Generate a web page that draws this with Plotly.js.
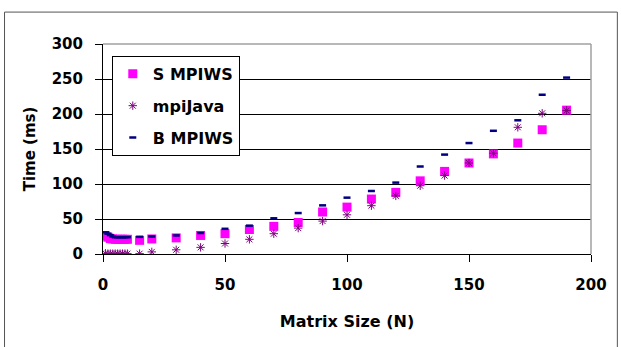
<!DOCTYPE html>
<html>
<head>
<meta charset="utf-8">
<script src="https://cdn.plot.ly/plotly-3.0.1.min.js"></script>
<style>html,body{margin:0;padding:0;background:#fff;}#chart{width:621px;height:347px;}</style>
</head>
<body>
<div id="chart"></div>
<script>
const matrixSize = [1,2,3,4,5,6,7,8,9,10,15,20,30,40,50,60,70,80,90,100,110,120,130,140,150,160,170,180,190];
const sMpiws = [26,24,22,21.5,21,21,21,21,21,21,19.5,21.5,23,26.5,29,35,39.5,45,60,67,78.5,88,104.5,118,130,143,158.5,177.5,205.5];
const mpiJava = [1,0.5,0.5,0.5,0.5,0.5,0.5,0.5,0.5,0.5,0.5,3,6,9.5,15,21,29,37,47,56,69,83,97.5,112,130,144,181,201,205];
const bMpiws = [31,29,27,25,24,24,24,24,24,24,24.5,25,26.5,30,36,40.5,51,58.5,69.5,80.5,90,102,125,142,158.5,176,191,227.5,252];
const seriesNames = ['S MPIWS','mpiJava','B MPIWS'];
const xTicks = [0,50,100,150,200];
const yTicks = [0,50,100,150,200,250,300];

const fam = 'DejaVu Sans, Arial, sans-serif';
function f(size) { return {family: fam, size: size, weight: 'bold', color: '#000'}; }

const traces = [
  {x: matrixSize, y: sMpiws, name: seriesNames[0], type: 'scatter', mode: 'markers', legendgroup: 'a',
   marker: {symbol: 'square', size: 9, color: '#FF00FF'}},
  {x: matrixSize, y: mpiJava, name: seriesNames[1], type: 'scatter', mode: 'markers', legendgroup: 'b',
   marker: {symbol: 'asterisk-open', size: 7, color: '#800080', line: {color: '#800080', width: 1}}},
  {x: matrixSize, y: bMpiws, name: seriesNames[2], type: 'scatter', mode: 'markers', legendgroup: 'c',
   marker: {symbol: 'line-ew-open', size: 5, color: '#000080', line: {color: '#000080', width: 2.5}}}
];

const layout = {
  width: 621, height: 347,
  margin: {l: 103, r: 30, t: 44, b: 93},
  paper_bgcolor: '#fff', plot_bgcolor: '#fff',
  showlegend: true,
  font: f(15),
  xaxis: {
    range: [0, 200], tickvals: xTicks, ticktext: xTicks.map(String),
    showgrid: false, zeroline: false,
    showline: true, linecolor: '#000', linewidth: 1,
    ticks: 'outside', ticklen: 7, tickcolor: '#000', tickwidth: 1,
    ticklabelstandoff: 10,
    tickfont: f(15),
    title: {text: 'Matrix Size (N)', font: f(16), standoff: 22}
  },
  yaxis: {
    range: [0, 300], tickvals: yTicks, ticktext: yTicks.map(String),
    showgrid: true, gridcolor: '#000', gridwidth: 1, zeroline: false,
    showline: true, linecolor: '#000', linewidth: 1,
    ticks: 'outside', ticklen: 7, tickcolor: '#000', tickwidth: 1,
    ticklabelstandoff: 9,
    tickfont: f(15),
    title: {text: 'Time (ms)', font: f(15), standoff: 12}
  },
  legend: {
    x: 0.018, y: 0.943, xanchor: 'left', yanchor: 'top',
    bgcolor: '#fff', bordercolor: '#000', borderwidth: 1,
    font: f(16),
    tracegroupgap: 8, itemwidth: 30
  },
  shapes: [
    {type: 'line', xref: 'paper', yref: 'paper', x0: 0, x1: 1, y0: 1, y1: 1, line: {color: '#a0a0a0', width: 1.5}, layer: 'above'},
    {type: 'line', xref: 'paper', yref: 'paper', x0: 1, x1: 1, y0: 0, y1: 1, line: {color: '#a0a0a0', width: 1.5}, layer: 'above'},
    {type: 'rect', xref: 'paper', yref: 'paper', x0: -0.2018, x1: 1.054, y0: -0.7, y1: 1.152, line: {color: '#555', width: 1}, fillcolor: 'rgba(0,0,0,0)', layer: 'below'}
  ]
};

Plotly.newPlot('chart', traces, layout, {displayModeBar: false, staticPlot: true});
</script>
</body>
</html>
